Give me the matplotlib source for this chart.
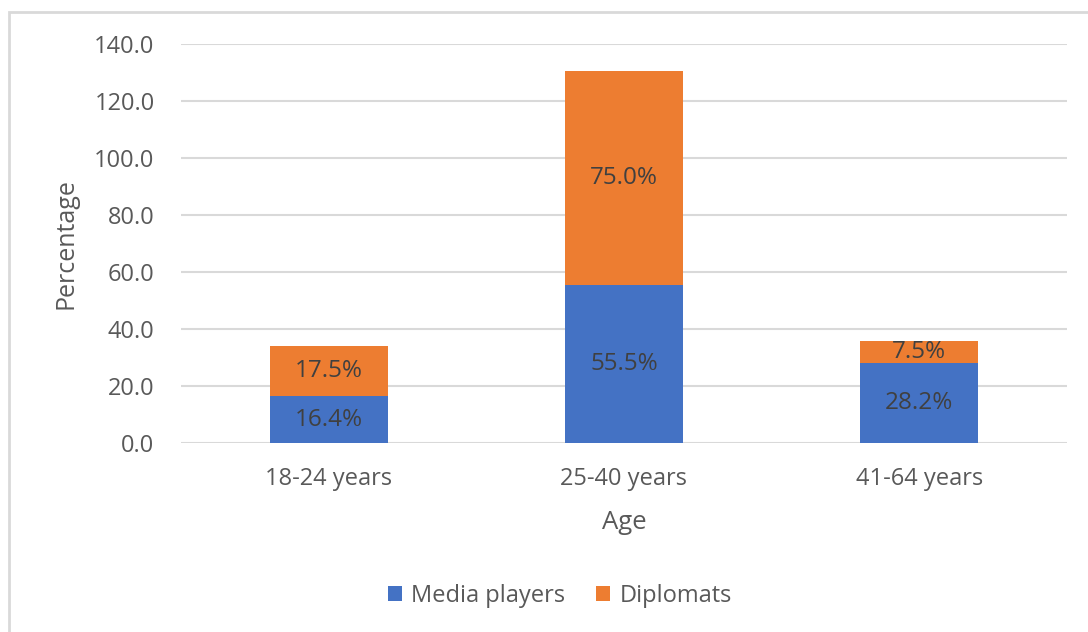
import numpy as np
import matplotlib.pyplot as plt
from matplotlib.patches import Rectangle

plt.rcParams['font.family'] = ['Open Sans', 'DejaVu Sans']

ages = ["18-24 years", "25-40 years", "41-64 years"]
media_players = [16.4, 55.5, 28.2]
diplomats = [17.5, 75.0, 7.5]

blue = '#4472C4'
orange = '#ED7D31'
txt = '#595959'

fig = plt.figure(figsize=(10.88, 6.32), dpi=100)
ax = fig.add_axes([181 / 1088, 1 - 443 / 632, (1067 - 181) / 1088, (443 - 44) / 632])

x = np.arange(len(ages))
b1 = ax.bar(x, media_players, width=0.4, color=blue, label='Media players')
b2 = ax.bar(x, diplomats, width=0.4, bottom=media_players, color=orange, label='Diplomats')

ax.bar_label(b1, labels=['%.1f%%' % v for v in media_players], label_type='center',
             fontsize=17.5, color='#404040')
ax.bar_label(b2, labels=['%.1f%%' % v for v in diplomats], label_type='center',
             fontsize=17.5, color='#404040')

ax.set_xlim(-0.5, 2.5)
ax.set_ylim(0, 140)
ax.set_yticks(np.arange(0, 141, 20))
ax.set_yticklabels(['%.1f' % v for v in np.arange(0, 141, 20)])
ax.set_xticks(x)
ax.set_xticklabels(ages)
ax.tick_params(length=0, labelsize=17, labelcolor=txt)
ax.tick_params(axis='y', pad=19)
ax.tick_params(axis='x', pad=17)
ax.grid(axis='y', color='#D9D9D9', linewidth=1.5)
ax.set_axisbelow(True)
for s in ax.spines.values():
    s.set_visible(False)

ax.set_xlabel('Age', fontsize=18.5, color=txt, labelpad=14)
ax.set_ylabel('Percentage', fontsize=18, color=txt, labelpad=11)

ax.legend(loc='center', bbox_to_anchor=(560 / 1088, 1 - 596 / 632), bbox_transform=fig.transFigure,
          ncol=2, frameon=False, fontsize=17, labelcolor=txt, handlelength=0.6, handleheight=0.6,
          columnspacing=1.3, handletextpad=0.4)

# outer chart border (top and left visible)
fig.add_artist(Rectangle((9 / 1088, -0.1), 1.2, 1 - 12 / 632 + 0.1, transform=fig.transFigure,
                         fill=False, edgecolor='#D9D9D9', linewidth=2))

fig.savefig('out.png', dpi=100)
